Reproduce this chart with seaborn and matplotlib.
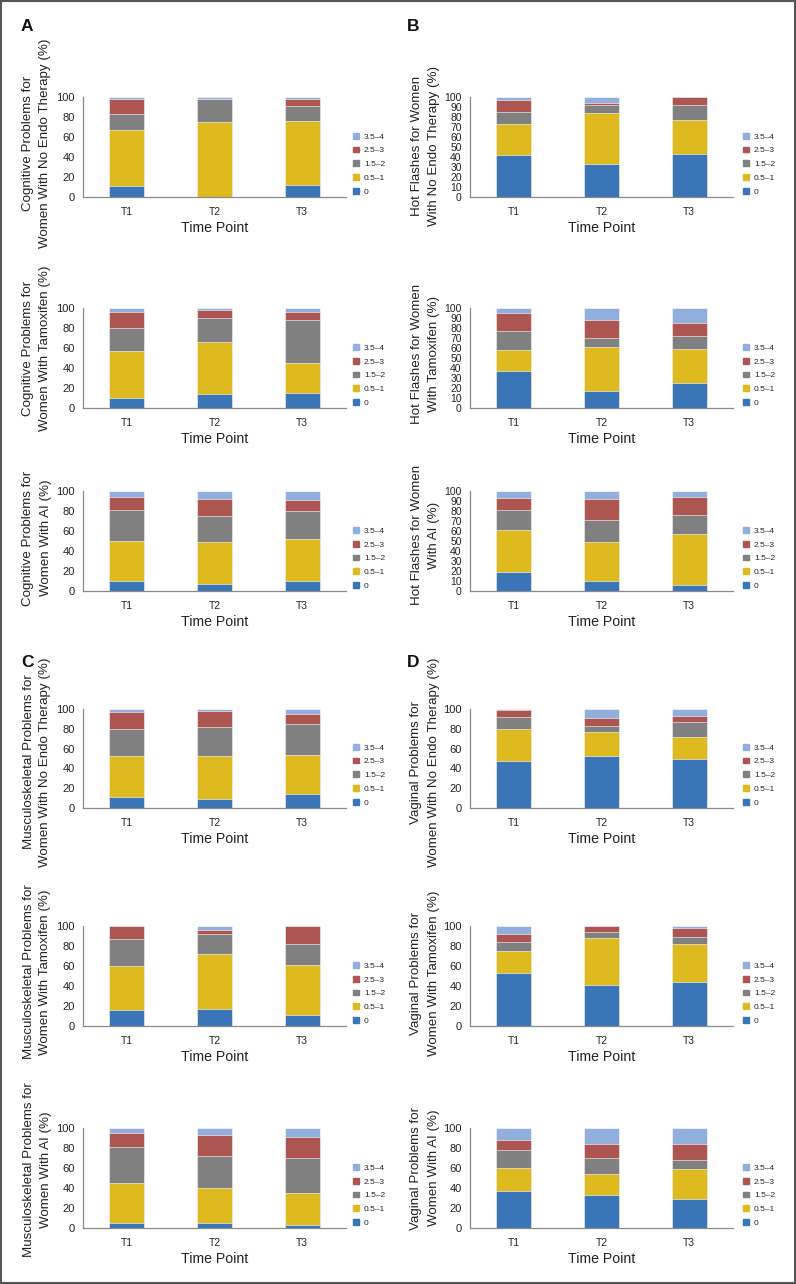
import numpy as np
import matplotlib.pyplot as plt
import matplotlib.patches as mpatches
import pandas as pd
import seaborn as sns

# ---------------- data (percent of women per score band) ----------------
time_points = ["T1", "T2", "T3"]
levels = ["0", "0.5\u20131", "1.5\u20132", "2.5\u20133", "3.5\u20134"]

cog_none = [[11.5, 55.5, 16, 15, 2], [0, 75, 23, 0, 2], [12.5, 63.5, 15, 7, 2]]
cog_tam = [[10, 47.5, 22.5, 16, 4], [14, 52, 24, 8, 2], [15, 30, 43, 8, 4]]
cog_ai = [[10, 40, 31, 13, 6], [7, 42, 26, 17, 8], [10.5, 42, 27.5, 11, 9]]

hot_none = [[42, 31, 12, 12.5, 2.5], [33, 51, 8, 2, 6], [43, 34, 15, 8, 0]]
hot_tam = [[37, 21, 19, 18, 5], [17, 44, 9, 18, 12], [25, 34, 13, 13, 15]]
hot_ai = [[19.5, 42, 20, 11.5, 7], [10.5, 38.5, 22.5, 21, 7.5], [6.5, 51, 19, 18, 5.5]]

msk_none = [[11.5, 41.5, 27, 17, 3], [9.5, 43.5, 29, 16, 2], [14.5, 39.5, 31, 10, 5]]
msk_tam = [[16.5, 43.5, 27, 13, 0], [17.5, 54.5, 20, 4, 4], [11.5, 49.5, 21, 18, 0]]
msk_ai = [[5, 40.5, 35.5, 14, 5], [5, 35, 32, 21, 7], [3, 32.5, 34.5, 21, 9]]

vag_none = [[47.5, 32, 12.5, 6.5, 1.5], [53, 23.5, 6, 8, 9.5], [50, 22, 15, 5.5, 7.5]]
vag_tam = [[53.5, 21.5, 9, 8, 8], [41.5, 46.5, 6.5, 5.5, 0], [44, 38.5, 6.5, 9, 2]]
vag_ai = [[37.5, 23, 18, 9.5, 12], [33, 21, 16, 14, 16], [29.5, 30, 9, 15.5, 16]]

ylabels = {
    "cog_none": ["Cognitive Problems for", "Women With No Endo Therapy (%)"],
    "cog_tam": ["Cognitive Problems for", "Women With Tamoxifen (%)"],
    "cog_ai": ["Cognitive Problems for", "Women With AI (%)"],
    "hot_none": ["Hot Flashes for Women", "With No Endo Therapy (%)"],
    "hot_tam": ["Hot Flashes for Women", "With Tamoxifen (%)"],
    "hot_ai": ["Hot Flashes for Women", "With AI (%)"],
    "msk_none": ["Musculoskeletal Problems for", "Women With No Endo Therapy (%)"],
    "msk_tam": ["Musculoskeletal Problems for", "Women With Tamoxifen (%)"],
    "msk_ai": ["Musculoskeletal Problems for", "Women With AI (%)"],
    "vag_none": ["Vaginal Problems for", "Women With No Endo Therapy (%)"],
    "vag_tam": ["Vaginal Problems for", "Women With Tamoxifen (%)"],
    "vag_ai": ["Vaginal Problems for", "Women With AI (%)"],
}

colors = ["#3a75b8", "#dfba1f", "#808080", "#ad5550", "#92aedc"]

# ---------------- layout ----------------
sns.set_theme(style="white")
plt.rcParams["font.family"] = ["Liberation Sans", "DejaVu Sans"]

W, H = 796, 1284
fig = plt.figure(figsize=(W / 100, H / 100), dpi=100)

col_x = [83, 470]
ax_w = 263
rows_y = [(97, 197), (308, 408), (491, 591), (709, 808), (926, 1026), (1128, 1228)]
# y-label centre (x, y) in pixels
panels = [
    ("cog_none", cog_none, 0, 0, 20, (37, 143)),
    ("cog_tam", cog_tam, 0, 1, 20, (37, 348)),
    ("cog_ai", cog_ai, 0, 2, 20, (37, 538)),
    ("hot_none", hot_none, 1, 0, 10, (425, 146)),
    ("hot_tam", hot_tam, 1, 1, 10, (425, 354)),
    ("hot_ai", hot_ai, 1, 2, 10, (425, 535)),
    ("msk_none", msk_none, 0, 3, 20, (37, 762)),
    ("msk_tam", msk_tam, 0, 4, 20, (37, 972)),
    ("msk_ai", msk_ai, 0, 5, 20, (37, 1170)),
    ("vag_none", vag_none, 1, 3, 20, (425, 762)),
    ("vag_tam", vag_tam, 1, 4, 20, (425, 973)),
    ("vag_ai", vag_ai, 1, 5, 20, (425, 1168)),
]

spine_col = "#8a8a8a"
txt_col = "#222222"

for key, vals, col, row, ystep, (lx, ly) in panels:
    top, bot = rows_y[row]
    ax = fig.add_axes([col_x[col] / W, 1 - bot / H, ax_w / W, (bot - top) / H])

    arr = np.array(vals)
    cum = np.cumsum(arr, axis=1)
    df = pd.DataFrame(cum, index=time_points, columns=levels).reset_index()
    df = df.melt(id_vars="index", var_name="level", value_name="cum")
    df = df.rename(columns={"index": "time"})

    # draw cumulative bars from the top band down so they stack visually
    for lev, c in reversed(list(zip(levels, colors))):
        sub = df[df["level"] == lev]
        sns.barplot(data=sub, x="time", y="cum", order=time_points, color=c,
                    width=0.4, edgecolor="white", linewidth=0.4, saturation=1,
                    ax=ax, errorbar=None)

    ax.set_xlim(-0.5, 2.5)
    ax.set_ylim(0, 100)
    ax.set_yticks(np.arange(0, 101, ystep))
    ax.set_xticks([0, 1, 2])
    ax.set_xticks([-0.5, 0.5, 1.5, 2.5], minor=True)
    ax.tick_params(axis="x", which="major", length=0, labelsize=7.5, pad=7)
    ax.tick_params(axis="x", which="minor", length=4, width=0.8, direction="out")
    ax.tick_params(axis="y", length=4, width=0.8, direction="out",
                   labelsize=8 if ystep == 20 else 7.5, pad=2)
    ax.tick_params(axis="both", which="both", color=spine_col, labelcolor=txt_col)
    ax.set_xlabel("Time Point", fontsize=10.2, labelpad=3, color=txt_col)
    ax.set_ylabel("")
    for s in ["top", "right"]:
        ax.spines[s].set_visible(False)
    for s in ["left", "bottom"]:
        ax.spines[s].set_color(spine_col)
        ax.spines[s].set_linewidth(0.9)

    # two-line rotated axis title, one text per line
    for dx, line in zip((-8.5, 8.5), ylabels[key]):
        fig.text((lx + dx) / W, 1 - ly / H, line, rotation=90, ha="center", va="center",
                 fontsize=9.6, color=txt_col)

    handles = [mpatches.Patch(color=c, label=l) for l, c in zip(levels, colors)][::-1]
    ax.legend(handles=handles, loc="lower left",
              bbox_to_anchor=(1.008 if col == 0 else 1.02, -0.04),
              frameon=False, fontsize=6, handlelength=0.7, handleheight=0.7,
              handletextpad=0.6, labelspacing=0.72, borderaxespad=0.2)

# panel letters
for letter, (px, py) in zip("ABCD", [(21, 31), (407, 31), (21, 667), (407, 667)]):
    fig.text(px / W, 1 - py / H, letter, fontsize=12.5, fontweight="bold",
             ha="left", va="baseline", color="#111111")

# outer frame
fig.patches.append(mpatches.Rectangle((0.001, 0.001), 0.998, 0.998, transform=fig.transFigure,
                                      fill=False, edgecolor="#555555", linewidth=1.5))

fig.savefig("out.png", dpi=100)
